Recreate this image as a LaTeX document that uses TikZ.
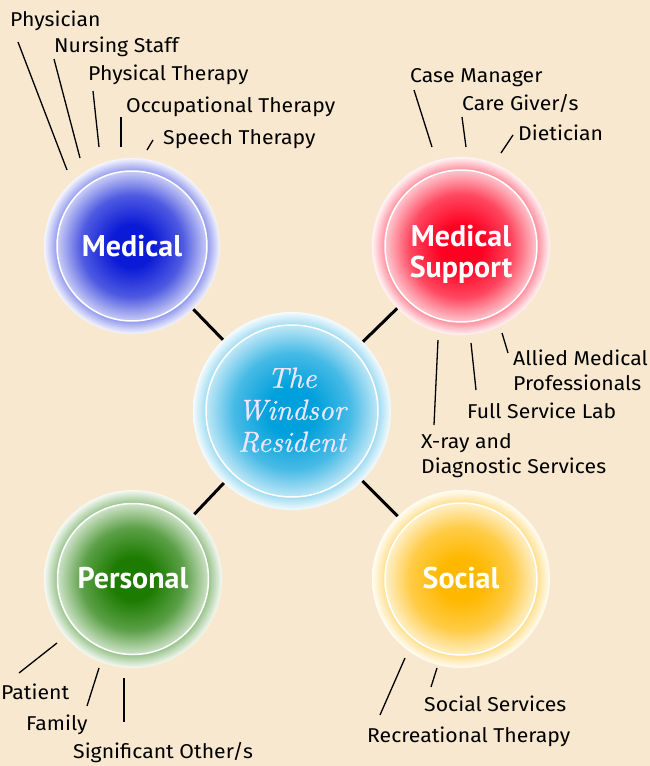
\documentclass[tikz,border=0pt]{standalone}
\usepackage{fontspec}
\newfontfamily\ptsans{PT Sans}
\newfontfamily\fira[FakeStretch=1.06]{Fira Sans}
\newfontfamily\cali[FakeBold=0.6]{lmroman10-italic.otf}
\definecolor{bg}{HTML}{F8E8CF}
\definecolor{medC}{HTML}{0A1AD6}
\definecolor{supC}{HTML}{FF0022}
\definecolor{cenC}{HTML}{00A0DC}
\definecolor{perC}{HTML}{1C7B00}
\definecolor{socC}{HTML}{FFB800}
\definecolor{lav}{HTML}{EEE6FF}
\colorlet{medMid}{medC!45!white}\colorlet{medLt}{medC!4!white}\colorlet{medEdge}{medC!22!white}
\colorlet{supMid}{supC!45!white}\colorlet{supLt}{supC!4!white}\colorlet{supEdge}{supC!22!white}
\colorlet{cenMid}{cenC!42!white}\colorlet{cenLt}{cenC!4!white}\colorlet{cenEdge}{cenC!25!white}
\colorlet{perMid}{perC!45!white}\colorlet{perLt}{perC!4!white}\colorlet{perEdge}{perC!22!white}
\colorlet{socMid}{socC!45!white}\colorlet{socLt}{socC!4!white}\colorlet{socEdge}{socC!22!white}
\newcommand{\mkshadings}[1]{%
  \pgfdeclareradialshading{#1Out}{\pgfpointorigin}{color(0bp)=(#1Mid); color(21.3bp)=(#1Mid); color(25bp)=(#1Lt); color(50bp)=(#1Lt)}%
  \pgfdeclareradialshading{#1In}{\pgfpointorigin}{color(0bp)=(#1C); color(7bp)=(#1C); color(17bp)=(#1C!72!white); color(25bp)=(#1Edge); color(50bp)=(#1Edge)}%
}
\mkshadings{med}\mkshadings{sup}\mkshadings{cen}\mkshadings{per}\mkshadings{soc}
\begin{document}
\begin{tikzpicture}[x=1pt,y=-1pt,
  lbl/.style={font=\fira\fontsize{20}{22}\selectfont, anchor=base west, inner sep=0pt, text=black},
  lead/.style={line width=1.3pt, black},
  link/.style={line width=3pt, black},
  ring/.style={circle, inner sep=0pt, minimum size=#1},
  core/.style={circle, inner sep=0pt, minimum size=#1, draw=white, line width=1.5pt},
  big/.style={font=\ptsans\bfseries\fontsize{30}{34}\selectfont, text=white, align=center, inner sep=0pt}]
\useasboundingbox (0,0) rectangle (650,766);
\fill[bg] (0,0) rectangle (650,766);
% outer rings
\node[ring=176pt, shade, shading=medOut] (med) at (132,246) {};
\node[ring=178pt, shade, shading=supOut] (sup) at (461,246) {};
\node[ring=198pt, shade, shading=cenOut] (cen) at (292,411) {};
\node[ring=178pt, shade, shading=perOut] (per) at (133,579) {};
\node[ring=178pt, shade, shading=socOut] (soc) at (461,579) {};
% cores
\node[core=150pt, shade, shading=medIn] (medi) at (132,246) {};
\node[core=152pt, shade, shading=supIn] (supi) at (461,246) {};
\node[core=172pt, shade, shading=cenIn] (ceni) at (292,411) {};
\node[core=151pt, shade, shading=perIn] (peri) at (133,579) {};
\node[core=152pt, shade, shading=socIn] (soci) at (461,579) {};
% links
\draw[link] (cen) -- (med);
\draw[link] (cen) -- (sup);
\draw[link] (cen) -- (per);
\draw[link] (cen) -- (soc);
% titles
\node[big] (medt) at (132,246) {Medical};
\node[big] (supt) at (461,254) {Medical\\[-3pt]Support};
\node[big] (pert) at (133,578) {Personal};
\node[big] (soct) at (461,578) {Social};
\node[font=\cali\fontsize{29}{32}\selectfont, text=lav, align=center, inner sep=0pt] (cent) at (292,410) {The\\Windsor\\Resident};
% medical labels
\node[lbl] (physician) at (10,26) {Physician};
\node[lbl] (nursing) at (54,52) {Nursing Staff};
\node[lbl] (phys) at (88,80) {Physical Therapy};
\node[lbl] (occ) at (126,112) {Occupational Therapy};
\node[lbl] (speech) at (163,144) {Speech Therapy};
\coordinate (a1) at (18,42); \coordinate (b1) at (67,170);
\coordinate (a2) at (54,59); \coordinate (b2) at (80,158);
\coordinate (a3) at (93,91); \coordinate (b3) at (99,147);
\coordinate (a4) at (121,117); \coordinate (b4) at (121,147);
\coordinate (a5) at (153,140); \coordinate (b5) at (147,150);
\draw[lead] (a1) -- (b1);
\draw[lead] (a2) -- (b2);
\draw[lead] (a3) -- (b3);
\draw[lead] (a4) -- (b4);
\draw[lead] (a5) -- (b5);
% medical support labels
\node[lbl] (casem) at (410,82) {Case Manager};
\node[lbl] (careg) at (462,110) {Care Giver/s};
\node[lbl] (diet) at (518,140) {Dietician};
\coordinate (a6) at (414,90); \coordinate (b6) at (432,147);
\coordinate (a7) at (462,117); \coordinate (b7) at (466,147);
\coordinate (a8) at (513,135); \coordinate (b8) at (501,153);
\draw[lead] (a6) -- (b6);
\draw[lead] (a7) -- (b7);
\draw[lead] (a8) -- (b8);
\node[lbl] (allied1) at (513,365) {Allied Medical};
\node[lbl] (allied2) at (513,390) {Professionals};
\node[lbl] (lab) at (467,418) {Full Service Lab};
\node[lbl] (xray1) at (421,448) {X-ray and};
\node[lbl] (xray2) at (421,473) {Diagnostic Services};
\coordinate (a9) at (502,333); \coordinate (b9) at (508,353);
\coordinate (a10) at (471,343); \coordinate (b10) at (476,390);
\coordinate (a11) at (438,340); \coordinate (b11) at (434,425);
\draw[lead] (a9) -- (b9);
\draw[lead] (a10) -- (b10);
\draw[lead] (a11) -- (b11);
% personal labels
\node[lbl] (patient) at (1,699) {Patient};
\node[lbl] (family) at (26,730) {Family};
\node[lbl] (sig) at (73,758) {Significant Other/s};
\coordinate (a12) at (57,643); \coordinate (b12) at (19,673);
\coordinate (a13) at (99,668); \coordinate (b13) at (87,706);
\coordinate (a14) at (124,678); \coordinate (b14) at (124,722);
\draw[lead] (a12) -- (b12);
\draw[lead] (a13) -- (b13);
\draw[lead] (a14) -- (b14);
% social labels
\node[lbl] (socserv) at (424,711) {Social Services};
\node[lbl] (rec) at (367,742) {Recreational Therapy};
\coordinate (a15) at (405,658); \coordinate (b15) at (380,715);
\coordinate (a16) at (437,668); \coordinate (b16) at (431,687);
\draw[lead] (a15) -- (b15);
\draw[lead] (a16) -- (b16);
\end{tikzpicture}
\end{document}
